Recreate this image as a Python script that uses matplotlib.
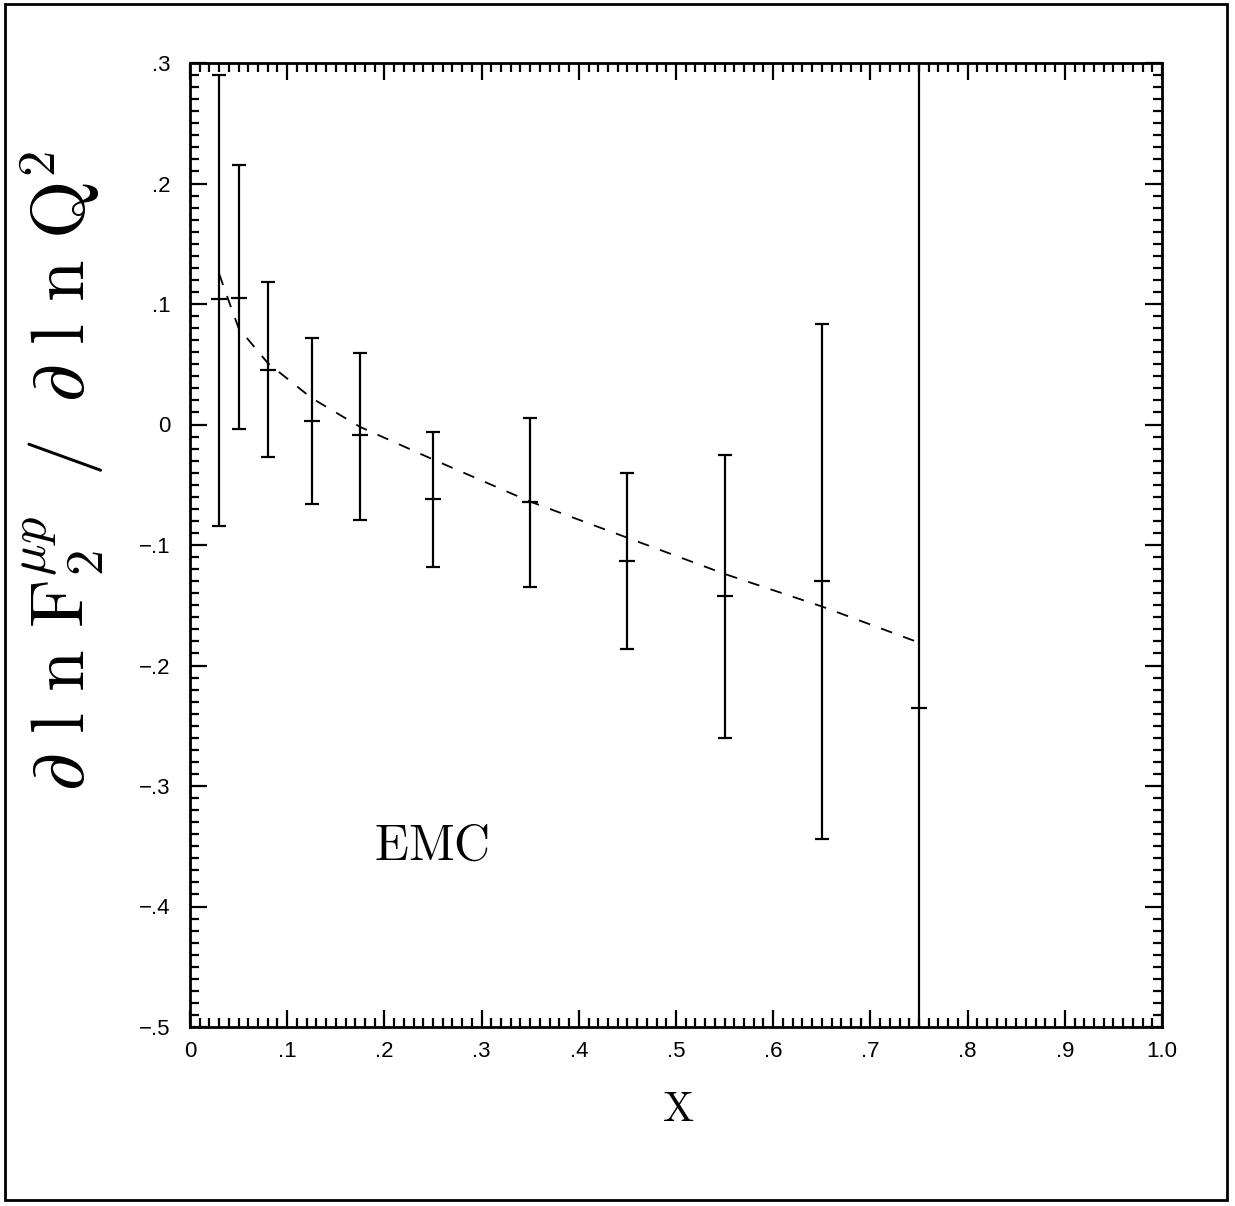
import matplotlib
matplotlib.use("Agg")
import matplotlib.pyplot as plt
from matplotlib.ticker import MultipleLocator, FixedLocator, FixedFormatter
from matplotlib.patches import Rectangle

# ---- data ----
x_data = [0.03, 0.05, 0.08, 0.125, 0.175, 0.25, 0.35, 0.45, 0.55, 0.65, 0.75]
y_data = [0.104, 0.105, 0.045, 0.003, -0.009, -0.062, -0.064, -0.113, -0.142, -0.130, -0.235]
y_high = [0.290, 0.215, 0.118, 0.072, 0.059, -0.006, 0.005, -0.040, -0.025, 0.083, 0.60]
y_low = [-0.084, -0.004, -0.027, -0.066, -0.079, -0.118, -0.135, -0.186, -0.260, -0.344, -0.90]

curve_x = [0.03, 0.041, 0.05, 0.08, 0.125, 0.175, 0.25, 0.35, 0.45, 0.55, 0.65, 0.75]
curve_y = [0.125, 0.100, 0.080, 0.051, 0.022, -0.002, -0.029, -0.064, -0.094, -0.124, -0.151, -0.181]

x_ticks = [0.0, 0.1, 0.2, 0.3, 0.4, 0.5, 0.6, 0.7, 0.8, 0.9, 1.0]
x_tick_labels = ["0", ".1", ".2", ".3", ".4", ".5", ".6", ".7", ".8", ".9", "1.0"]
y_ticks = [0.3, 0.2, 0.1, 0.0, -0.1, -0.2, -0.3, -0.4, -0.5]
y_tick_labels = [".3", ".2", ".1", "0", "\u2212.1", "\u2212.2", "\u2212.3", "\u2212.4", "\u2212.5"]

plt.rcParams["mathtext.fontset"] = "cm"
plt.rcParams["font.family"] = ["Liberation Sans", "DejaVu Sans"]

W, H = 1235, 1206
fig = plt.figure(figsize=(W / 100, H / 100), dpi=100)
ax = fig.add_axes([190 / W, 1 - 1027 / H, (1162 - 190) / W, (1027 - 63) / H])

err_lo = [c - l for c, l in zip(y_data, y_low)]
err_hi = [h - c for c, h in zip(y_data, y_high)]
ax.errorbar(x_data, y_data, yerr=[err_lo, err_hi], fmt="none", ecolor="black",
            elinewidth=1.6, capsize=5, capthick=1.6)
ax.plot(x_data, y_data, linestyle="none", marker="_", markersize=11,
        markeredgewidth=1.6, color="black")
ax.plot(curve_x, curve_y, color="black", linewidth=1.3, dashes=[6.5, 6.5])

ax.set_xlim(0, 1.0)
ax.set_ylim(-0.5, 0.3)

ax.xaxis.set_major_locator(FixedLocator(x_ticks))
ax.xaxis.set_major_formatter(FixedFormatter(x_tick_labels))
ax.yaxis.set_major_locator(FixedLocator(y_ticks))
ax.yaxis.set_major_formatter(FixedFormatter(y_tick_labels))
ax.xaxis.set_minor_locator(MultipleLocator(0.01))
ax.yaxis.set_minor_locator(MultipleLocator(0.01))

ax.tick_params(which="both", direction="in", top=True, right=True, width=1.6,
               colors="black")
ax.tick_params(which="major", length=12)
ax.tick_params(which="minor", length=6.5)
ax.tick_params(axis="y", which="major", pad=14, labelsize=16)
ax.tick_params(axis="x", which="major", pad=10, labelsize=16)
for s in ax.spines.values():
    s.set_linewidth(2.0)

ax.text(0.249, -0.35, r"$\mathrm{EMC}$", fontsize=36, ha="center", va="center")

fig.text(678 / W, 1 - 1110 / H, r"$\mathrm{X}$", fontsize=30, ha="center", va="center")
fig.text(62 / W, 1 - 471 / H,
         r"$\partial\,\,\mathrm{l}\,\,\mathrm{n}\,\,\mathrm{F}_2^{\mu p}\;\;/\;\;\partial\,\,\mathrm{l}\,\,\mathrm{n}\,\,\mathrm{Q}^2$",
         fontsize=54, rotation=90, ha="center", va="center")

fig.patches.append(Rectangle((5 / W, 1 - 1200 / H), (1227 - 5) / W, (1200 - 4) / H,
                             transform=fig.transFigure, fill=False,
                             edgecolor="black", linewidth=2.0))

fig.savefig("out.png", dpi=100, facecolor="white")
